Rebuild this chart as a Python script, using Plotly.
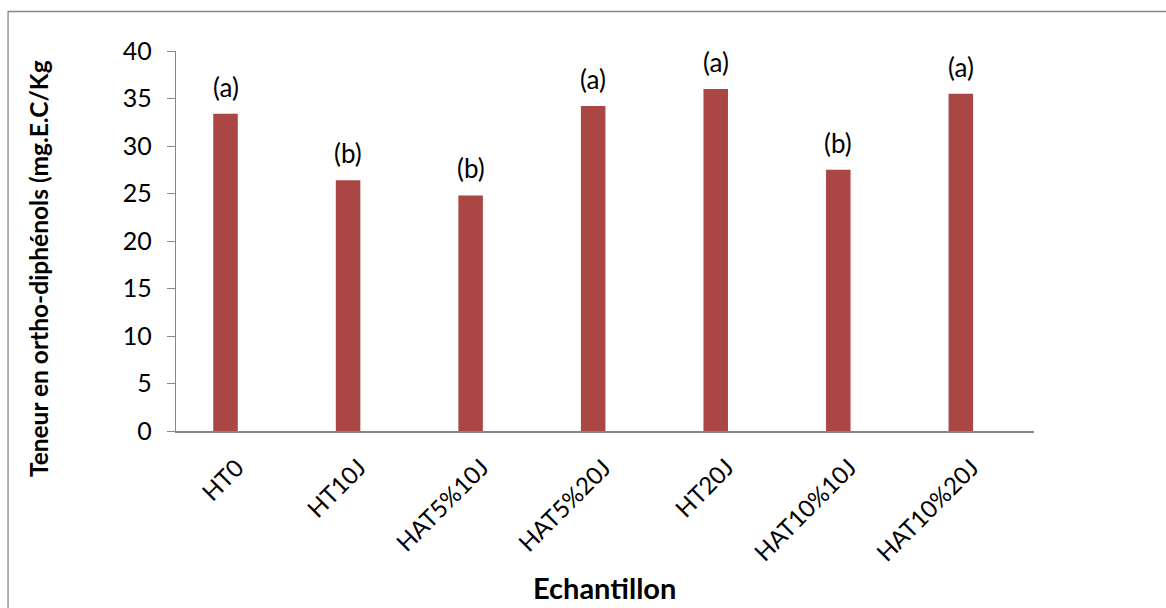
import plotly.graph_objects as go

# Ortho-diphenol content per sample
samples = ["HT0", "HT10J", "HAT5%10J", "HAT5%20J", "HT20J", "HAT10%10J", "HAT10%20J"]
teneur = [33.4, 26.4, 24.8, 34.2, 36.0, 27.5, 35.5]
groupes = ["(a)", "(b)", "(b)", "(a)", "(a)", "(b)", "(a)"]
y_ticks = [0, 5, 10, 15, 20, 25, 30, 35, 40]

FONT = "Lato"
AXIS_GREY = "#868686"

# Plot-area geometry in pixels (used for paper-coordinate placement)
L, R, T, B = 176.0, 1034.3, 51.4, 430.6
PW, PH = R - L, B - T


def px(xp):
    return (xp - L) / PW


def py(yp):
    return (B - yp) / PH


fig = go.Figure(
    go.Bar(
        x=samples,
        y=teneur,
        width=0.2,
        marker=dict(color="#AA4643", line=dict(width=0)),
        hoverinfo="x+y",
    )
)

# Significance letters above each bar
for s, v, g in zip(samples, teneur, groupes):
    fig.add_annotation(
        x=s, y=v, text=g, showarrow=False,
        yanchor="bottom", yshift=9,
        font=dict(family=FONT, size=26, color="#000000"),
    )

# Rotated category labels under the axis
for s in samples:
    fig.add_annotation(
        x=s, y=0, text=s, showarrow=False, textangle=-45,
        xanchor="right", yanchor="top", xshift=26, yshift=-19,
        font=dict(family=FONT, size=24, color="#000000"),
    )

# Axis titles
fig.add_annotation(
    xref="paper", yref="paper", x=px(605), y=py(587),
    text="<b>Echantillon</b>", showarrow=False,
    xanchor="center", yanchor="middle",
    font=dict(family=FONT, size=29, color="#000000"),
)
fig.add_annotation(
    xref="paper", yref="paper", x=px(38), y=py(269),
    text="<b>Teneur en ortho-diphénols (mg.E.C/Kg</b>",
    textangle=-90, showarrow=False,
    xanchor="center", yanchor="middle",
    font=dict(family=FONT, size=24.5, color="#000000"),
)

# Outer chart frame
fig.add_shape(
    type="rect", xref="paper", yref="paper",
    x0=px(8), x1=px(1175), y0=py(620), y1=py(12),
    line=dict(color=AXIS_GREY, width=1.3), fillcolor="rgba(0,0,0,0)",
    layer="below",
)

fig.update_layout(
    width=1166, height=608,
    margin=dict(l=L, r=1166 - R, t=T, b=608 - B),
    paper_bgcolor="white", plot_bgcolor="white",
    showlegend=False,
    font=dict(family=FONT, color="#000000"),
    xaxis=dict(
        type="category",
        range=[-0.404, 6.597],
        showline=True, linecolor=AXIS_GREY, linewidth=2,
        ticks="", showticklabels=False,
        showgrid=False, zeroline=False,
    ),
    yaxis=dict(
        range=[0, 40],
        tickvals=y_ticks,
        showline=True, linecolor=AXIS_GREY, linewidth=1.3,
        ticks="outside", ticklen=8, tickcolor=AXIS_GREY, tickwidth=1.3,
        tickfont=dict(family=FONT, size=25),
        ticklabelstandoff=10,
        showgrid=False, zeroline=False,
    ),
)

fig.write_html("out.html")
